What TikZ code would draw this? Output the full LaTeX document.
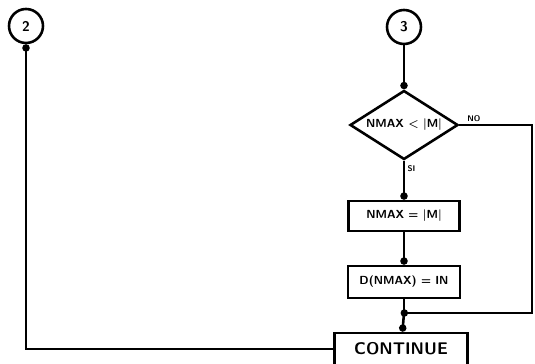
\documentclass[tikz,border=0pt]{standalone}
\usetikzlibrary{arrows.meta,shapes.geometric}
\tikzset{>={Circle[length=2.2mm]},every node/.style={font=\sffamily\bfseries\boldmath},
  flow/.style={line width=2.2pt,->},edge/.style={line width=2.2pt},
  conn/.style={circle,draw,line width=2.2pt,minimum size=10.2mm,inner sep=0pt,font=\sffamily\bfseries\large},
  proc/.style={rectangle,draw,line width=2.2pt,inner sep=0pt},
  test/.style={diamond,draw,line width=2.2pt,inner sep=0pt,aspect=1.57,minimum width=32.4mm,minimum height=20.7mm},
  tag/.style={font=\sffamily\bfseries\scriptsize,inner sep=2pt}}

\begin{document}
\begin{tikzpicture}[x=0.3mm,y=0.3mm]
\useasboundingbox (0,0) rectangle (535,364);
\node[conn] (c2) at (26,338){2};\node[conn] (c3) at (404,337){3};
\node[test] (cmp) at (404,239){NMAX $<$ $|$M$|$};
\node[proc,minimum width=33.3mm,minimum height=9mm] (set) at (404,148){NMAX = $|$M$|$};
\node[proc,minimum width=33.6mm,minimum height=9.6mm] (keep) at (404,82){D(NMAX) = IN};
\node[proc,minimum width=39.9mm,minimum height=9.6mm,font=\sffamily\bfseries\Large] (cont) at (401,15){CONTINUE};
\coordinate (noR) at (532,239);\coordinate (noB) at (532,51);\coordinate (join) at (404,51);
% flujo principal
\draw[flow] (c3)--(cmp);\draw[flow] (cmp)--(set) node[pos=.2,right,tag]{SI};
\draw[flow] (set)--(keep);\draw[edge] (keep)--(join);\draw[flow] (join)--(cont);
\draw[flow,shorten >=-1mm] (cmp.east)--(noR) node[pos=.2,above,tag]{NO} --(noB)--(join);
% retorno al conector 2
\draw[flow] (cont.west)-|(c2);
\end{tikzpicture}
\end{document}
